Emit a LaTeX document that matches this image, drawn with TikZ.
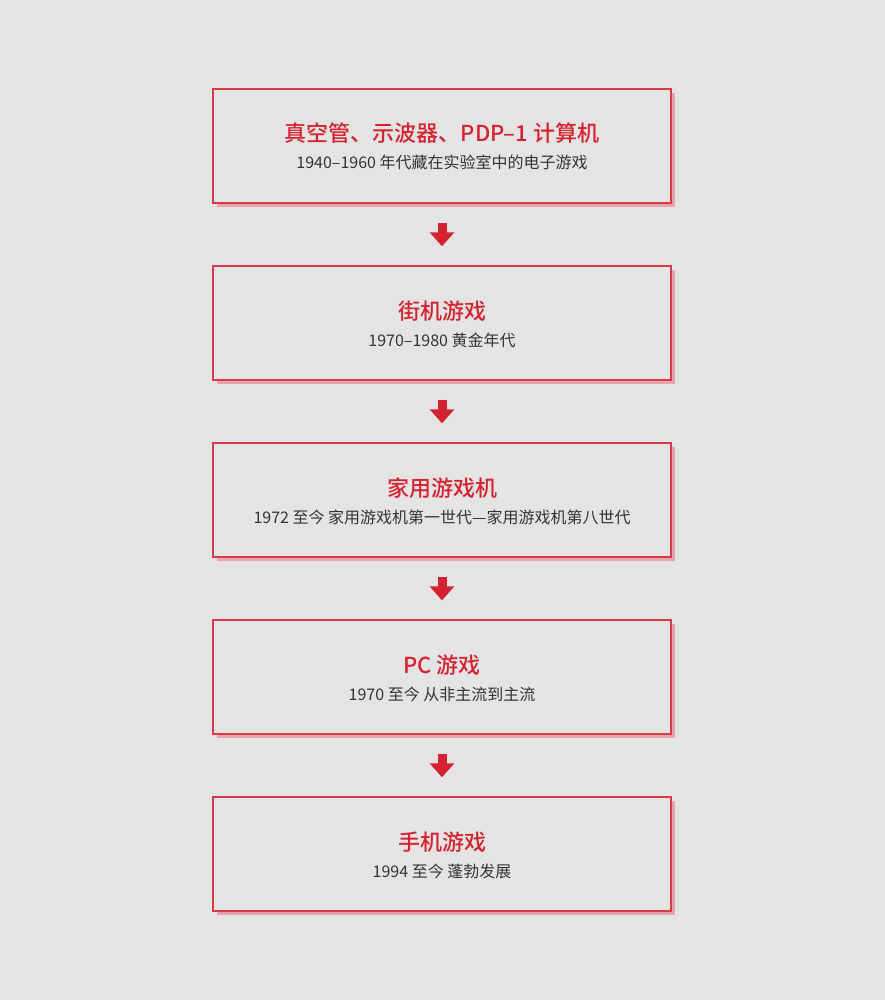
\documentclass[tikz,border=0pt]{standalone}
\usepackage{fontspec}
\newfontfamily\cjk{Noto Sans CJK SC}
\newfontfamily\cjkmed{Noto Sans CJK SC}[UprightFont=* Medium]
\usetikzlibrary{arrows.meta,shadows}
\definecolor{bgc}{HTML}{E4E4E4}
\definecolor{redc}{HTML}{D42230}
\definecolor{borderc}{HTML}{D83A48}
\definecolor{shadowc}{HTML}{E6A3AA}
\definecolor{subc}{HTML}{333333}
\tikzset{
  stagebox/.style={draw=borderc, line width=1.4pt, fill=bgc, minimum width=458pt, minimum height=114pt, inner sep=0pt,
    drop shadow={shadow xshift=4pt, shadow yshift=-4pt, fill=shadowc, opacity=1}},
  titletext/.style={anchor=base, text=redc, font=\cjkmed\fontsize{22pt}{26pt}\selectfont, inner sep=0pt},
  subtext/.style={anchor=base, text=subc, font=\cjk\fontsize{16pt}{19pt}\selectfont, inner sep=0pt},
  blockarrow/.style={draw=redc, line width=9pt, -{Triangle[width=24pt,length=14pt]}, shorten <=19pt, shorten >=19pt}
}
\begin{document}
\begin{tikzpicture}[x=1pt,y=-1pt]
\useasboundingbox[fill=bgc] (0,0) rectangle (885,1000);
\foreach \i/\t/\s in {1/{真空管、示波器、PDP–1 计算机}/{1940–1960 年代藏在实验室中的电子游戏},
                      2/{街机游戏}/{1970–1980 黄金年代},
                      3/{家用游戏机}/{1972 至今 家用游戏机第一世代—家用游戏机第八世代},
                      4/{PC 游戏}/{1970 至今 从非主流到主流},
                      5/{手机游戏}/{1994 至今 蓬勃发展}}{
  \pgfmathsetmacro{\top}{89+177*(\i-1)}
  \node[stagebox] (b\i) at (442,\top+57) {};
  \node[titletext] (t\i) at (442,\top+53) {\t};
  \node[subtext] (s\i) at (442,\top+80) {\s};
}
\foreach \a/\b in {1/2,2/3,3/4,4/5}{
  \draw[blockarrow] (b\a.south) -- (b\b.north);
}
\end{tikzpicture}
\end{document}
